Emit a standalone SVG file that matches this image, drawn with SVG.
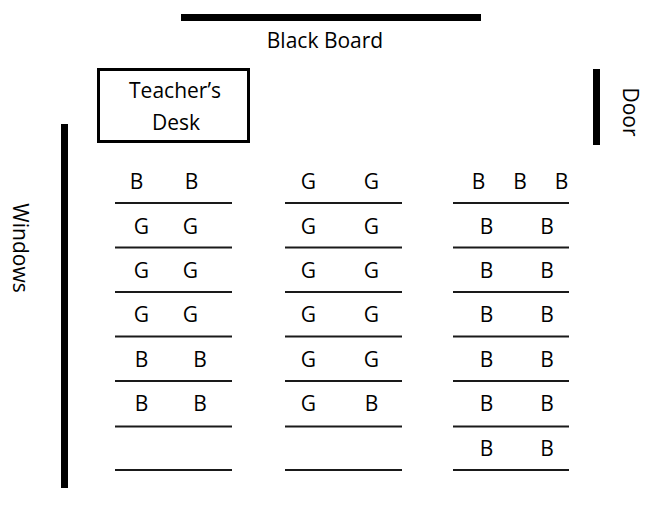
<svg xmlns="http://www.w3.org/2000/svg" width="645" height="513" viewBox="0 0 645 513">
<style>
text{font-family:"Open Sans","Liberation Sans",sans-serif;fill:#000}
.lbl{font-size:21px}
.s{font-size:21px;text-anchor:middle}
.row{stroke:#1a1a1a;stroke-width:2}
.bar{fill:#000}
</style>
<rect width="645" height="513" fill="#fff"/>
<g id="blackboard">
<rect class="bar" x="181" y="14" width="300" height="7"/>
<text class="lbl" x="325" y="48" text-anchor="middle">Black Board</text>
</g>
<g id="teachers-desk">
<rect x="98.5" y="69.5" width="150" height="72" fill="none" stroke="#000" stroke-width="3"/>
<text class="lbl" x="175" y="98" text-anchor="middle">Teacher’s</text>
<text class="lbl" x="176" y="130" text-anchor="middle">Desk</text>
</g>
<g id="windows">
<rect class="bar" x="61" y="124" width="7" height="364"/>
<text class="lbl" x="0" y="0" text-anchor="middle" transform="translate(13 248) rotate(90)">Windows</text>
</g>
<g id="door">
<rect class="bar" x="593" y="69" width="7" height="76"/>
<text class="lbl" x="0" y="0" text-anchor="middle" font-size="20" transform="translate(623 112) rotate(90)">Door</text>
</g>
<g id="rows">
<g id="col1-lines">
<line class="row" x1="115" y1="203" x2="232" y2="203"/>
<line class="row" x1="115" y1="247.5" x2="232" y2="247.5"/>
<line class="row" x1="115" y1="292" x2="232" y2="292"/>
<line class="row" x1="115" y1="336.5" x2="232" y2="336.5"/>
<line class="row" x1="115" y1="381" x2="232" y2="381"/>
<line class="row" x1="115" y1="426.5" x2="232" y2="426.5"/>
<line class="row" x1="115" y1="470" x2="232" y2="470"/>
</g>
<g id="col2-lines">
<line class="row" x1="285" y1="203" x2="402" y2="203"/>
<line class="row" x1="285" y1="247.5" x2="402" y2="247.5"/>
<line class="row" x1="285" y1="292" x2="402" y2="292"/>
<line class="row" x1="285" y1="336.5" x2="402" y2="336.5"/>
<line class="row" x1="285" y1="381" x2="402" y2="381"/>
<line class="row" x1="285" y1="426.5" x2="402" y2="426.5"/>
<line class="row" x1="285" y1="470" x2="402" y2="470"/>
</g>
<g id="col3-lines">
<line class="row" x1="453" y1="203" x2="569" y2="203"/>
<line class="row" x1="453" y1="247.5" x2="569" y2="247.5"/>
<line class="row" x1="453" y1="292" x2="569" y2="292"/>
<line class="row" x1="453" y1="336.5" x2="569" y2="336.5"/>
<line class="row" x1="453" y1="381" x2="569" y2="381"/>
<line class="row" x1="453" y1="426.5" x2="569" y2="426.5"/>
<line class="row" x1="453" y1="470" x2="569" y2="470"/>
</g>
</g>
<g id="col1-seats">
<text class="s" x="136.5" y="189">B</text><text class="s" x="191.5" y="189">B</text>
<text class="s" x="141.5" y="234">G</text><text class="s" x="190.5" y="234">G</text>
<text class="s" x="141.5" y="278">G</text><text class="s" x="190.5" y="278">G</text>
<text class="s" x="141.5" y="322">G</text><text class="s" x="190.5" y="322">G</text>
<text class="s" x="141.5" y="367">B</text><text class="s" x="200" y="367">B</text>
<text class="s" x="141.5" y="411">B</text><text class="s" x="200" y="411">B</text>
</g>
<g id="col2-seats">
<text class="s" x="308.5" y="189">G</text><text class="s" x="371.5" y="189">G</text>
<text class="s" x="308.5" y="234">G</text><text class="s" x="371.5" y="234">G</text>
<text class="s" x="308.5" y="278">G</text><text class="s" x="371.5" y="278">G</text>
<text class="s" x="308.5" y="322">G</text><text class="s" x="371.5" y="322">G</text>
<text class="s" x="308.5" y="367">G</text><text class="s" x="371.5" y="367">G</text>
<text class="s" x="308.5" y="411">G</text><text class="s" x="371.5" y="411">B</text>
</g>
<g id="col3-seats">
<text class="s" x="478.5" y="189">B</text><text class="s" x="520" y="189">B</text><text class="s" x="561.5" y="189">B</text>
<text class="s" x="486.5" y="234">B</text><text class="s" x="547" y="234">B</text>
<text class="s" x="486.5" y="278">B</text><text class="s" x="547" y="278">B</text>
<text class="s" x="486.5" y="322">B</text><text class="s" x="547" y="322">B</text>
<text class="s" x="486.5" y="367">B</text><text class="s" x="547" y="367">B</text>
<text class="s" x="486.5" y="411">B</text><text class="s" x="547" y="411">B</text>
<text class="s" x="486.5" y="456">B</text><text class="s" x="547" y="456">B</text>
</g>
</svg>
